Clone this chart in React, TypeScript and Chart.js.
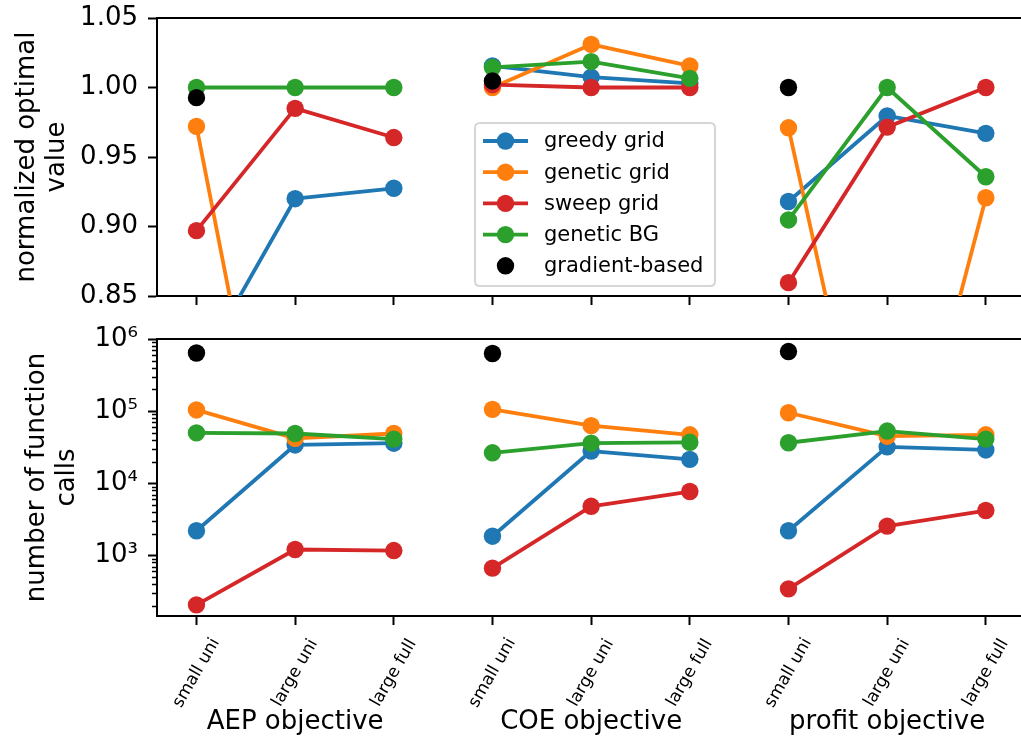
import React, { useEffect, useRef } from 'react';
import { Chart, registerables } from 'chart.js';

Chart.register(...registerables);

// ---------- data ----------
const xPositions = [0, 1, 2, 3, 4, 5, 6, 7, 8];
const layoutLabels = [
  'small uni', 'large uni', 'large full',
  'small uni', 'large uni', 'large full',
  'small uni', 'large uni', 'large full',
];
const objectiveLabels = ['AEP objective', 'COE objective', 'profit objective'];
const objectiveCenters = [1, 4, 7];

const seriesNames = ['greedy grid', 'genetic grid', 'sweep grid', 'genetic BG', 'gradient-based'];
const seriesColors = ['#1f77b4', '#ff7f0e', '#d62728', '#2ca02c', '#000000'];

// normalized optimal value (top panel)
const greedyOpt = [0.795, 0.920, 0.9275, 1.0155, 1.0075, 1.003, 0.918, 0.9795, 0.967];
const geneticOpt = [0.972, 0.61, 0.60, 1.000, 1.031, 1.0155, 0.971, 0.65, 0.9207];
const sweepOpt = [0.897, 0.985, 0.964, 1.002, 1.000, 1.000, 0.8596, 0.9715, 1.000];
const geneticBGOpt = [1.000, 1.000, 1.000, 1.0145, 1.0186, 1.0066, 0.9047, 1.000, 0.9358];
const gradientOpt = [0.9927, null, null, 1.0047, null, null, 1.000, null, null];

// number of function calls (bottom panel)
const greedyCalls = [2200, 34000, 36000, 1850, 28000, 21500, 2200, 32000, 29000];
const geneticCalls = [104000, 42000, 49000, 106000, 63000, 47000, 95000, 45000, 47000];
const sweepCalls = [207, 1210, 1170, 667, 4800, 7700, 345, 2550, 4200];
const geneticBGCalls = [50000, 49000, 41000, 26500, 36000, 37000, 36500, 53000, 41000];
const gradientCalls = [640000, null, null, 630000, null, null, 670000, null, null];

const topTicks = [0.85, 0.9, 0.95, 1.0, 1.05];
const bottomTicks = [1e3, 1e4, 1e5, 1e6];
const bottomTickLabels = ['10³', '10⁴', '10⁵', '10⁶'];

const FONT = '"DejaVu Sans", sans-serif';

function makeDatasets(values: (number | null)[][]) {
  return values.map((vals, s) => ({
    label: seriesNames[s],
    data: vals.map((v, i) => ({ x: xPositions[i], y: v })),
    borderColor: seriesColors[s],
    backgroundColor: seriesColors[s],
    pointBackgroundColor: seriesColors[s],
    pointBorderColor: seriesColors[s],
    pointBorderWidth: 0,
    pointRadius: 8.7,
    pointHoverRadius: 8.7,
    borderWidth: 3.8,
    borderJoinStyle: 'round' as const,
    showLine: s !== 4,
    spanGaps: false,
    clip: 0,
    order: 5 - s,
    segment: {
      borderColor: (ctx: any) =>
        ctx.p0DataIndex === 2 || ctx.p0DataIndex === 5 ? 'rgba(0,0,0,0)' : undefined,
    },
  }));
}

const framePlugin = {
  id: 'frame',
  afterDraw(chart: any) {
    const { ctx, chartArea } = chart;
    const { left, right, top, bottom } = chartArea;
    ctx.save();
    ctx.strokeStyle = '#000';
    ctx.lineWidth = 2;
    ctx.beginPath();
    ctx.moveTo(left - 1, top);
    ctx.lineTo(right + 1, top);
    ctx.moveTo(right, top);
    ctx.lineTo(right, bottom);
    ctx.stroke();
    ctx.restore();
  },
};

const legendPlugin = {
  id: 'customLegend',
  afterDraw(chart: any) {
    const ctx = chart.ctx;
    const bx = 475, by = 123, bw = 240, bh = 163, r = 5;
    ctx.save();
    ctx.beginPath();
    ctx.moveTo(bx + r, by);
    ctx.lineTo(bx + bw - r, by);
    ctx.quadraticCurveTo(bx + bw, by, bx + bw, by + r);
    ctx.lineTo(bx + bw, by + bh - r);
    ctx.quadraticCurveTo(bx + bw, by + bh, bx + bw - r, by + bh);
    ctx.lineTo(bx + r, by + bh);
    ctx.quadraticCurveTo(bx, by + bh, bx, by + bh - r);
    ctx.lineTo(bx, by + r);
    ctx.quadraticCurveTo(bx, by, bx + r, by);
    ctx.closePath();
    ctx.fillStyle = 'rgba(255,255,255,0.8)';
    ctx.fill();
    ctx.strokeStyle = 'rgba(204,204,204,0.8)';
    ctx.lineWidth = 2;
    ctx.stroke();
    const rowY0 = 141, rowStep = 31.2;
    seriesNames.forEach((name, i) => {
      const y = rowY0 + i * rowStep;
      ctx.strokeStyle = seriesColors[i];
      ctx.fillStyle = seriesColors[i];
      if (i !== 4) {
        ctx.lineWidth = 3.8;
        ctx.beginPath();
        ctx.moveTo(483, y);
        ctx.lineTo(528, y);
        ctx.stroke();
      }
      ctx.beginPath();
      ctx.arc(505.5, y, 8.7, 0, Math.PI * 2);
      ctx.fill();
      ctx.fillStyle = '#000';
      ctx.font = `21px ${FONT}`;
      ctx.textAlign = 'left';
      ctx.textBaseline = 'middle';
      ctx.fillText(name, 544, y + 1);
    });
    ctx.restore();
  },
};

const minorTicksPlugin = {
  id: 'minorTicks',
  afterDraw(chart: any) {
    const ys = chart.scales.y;
    const left = chart.chartArea.left;
    const ctx = chart.ctx;
    ctx.save();
    ctx.strokeStyle = '#000';
    ctx.lineWidth = 1.5;
    ctx.beginPath();
    for (let e = 2; e <= 5; e++) {
      for (let m = 2; m <= 9; m++) {
        const v = m * Math.pow(10, e);
        if (v < ys.min || v > ys.max) continue;
        const py = Math.round(ys.getPixelForValue(v)) + 0.5;
        ctx.moveTo(left - 5, py);
        ctx.lineTo(left, py);
      }
    }
    ctx.stroke();
    ctx.restore();
  },
};

const xLabelsPlugin = {
  id: 'xLabels',
  afterDraw(chart: any) {
    const ctx = chart.ctx;
    const xs = chart.scales.x;
    const ang = (60 * Math.PI) / 180;
    const fs = 17;
    ctx.save();
    ctx.fillStyle = '#000';
    ctx.font = `${fs}px ${FONT}`;
    layoutLabels.forEach((lab, i) => {
      const x = xs.getPixelForValue(xPositions[i]);
      ctx.save();
      ctx.translate(x, 353);
      ctx.rotate(-ang);
      ctx.textAlign = 'center';
      ctx.textBaseline = 'middle';
      ctx.fillText(lab, 0, 0);
      ctx.restore();
    });
    ctx.font = `26px ${FONT}`;
    ctx.textAlign = 'center';
    ctx.textBaseline = 'alphabetic';
    objectiveLabels.forEach((lab, i) => {
      const x = xs.getPixelForValue(objectiveCenters[i]);
      ctx.fillText(lab, x, 409);
    });
    ctx.restore();
  },
};

const commonGrid = {
  drawOnChartArea: false,
  drawTicks: true,
  tickLength: 9,
  tickWidth: 2,
  tickColor: '#000',
};
const commonBorder = { display: true, color: '#000', width: 2 };

const zeroPad = (s: any) => {
  s.paddingTop = 0;
  s.paddingBottom = 0;
  s.paddingLeft = 0;
  s.paddingRight = 0;
};

export default function App() {
  const topRef = useRef<HTMLCanvasElement | null>(null);
  const bottomRef = useRef<HTMLCanvasElement | null>(null);

  useEffect(() => {
    if (!topRef.current || !bottomRef.current) return;

    const top = new Chart(topRef.current, {
      type: 'line',
      data: {
        datasets: makeDatasets([greedyOpt, geneticOpt, sweepOpt, geneticBGOpt, gradientOpt]) as any,
      },
      options: {
        responsive: false,
        animation: false,
        events: [],
        layout: { padding: { top: 18, right: 1, left: 0, bottom: 0 } },
        plugins: { legend: { display: false }, tooltip: { enabled: false } },
        scales: {
          x: {
            type: 'linear',
            min: -0.4,
            max: 8.4,
            afterBuildTicks: (s: any) => {
              s.ticks = xPositions.map((v) => ({ value: v }));
            },
            ticks: { display: false },
            grid: commonGrid,
            border: commonBorder,
            afterFit: (s: any) => {
              s.height = 24;
              zeroPad(s);
            },
          },
          y: {
            type: 'linear',
            min: 0.85,
            max: 1.05,
            afterBuildTicks: (s: any) => {
              s.ticks = topTicks.map((v) => ({ value: v }));
            },
            ticks: {
              callback: (v: any) => Number(v).toFixed(2),
              font: { family: FONT, size: 26 },
              color: '#000',
              padding: 10,
            },
            grid: commonGrid,
            border: commonBorder,
            title: {
              display: true,
              text: ['normalized optimal', 'value'],
              font: { family: FONT, size: 26, lineHeight: 30 / 26 },
              color: '#000',
              padding: { top: 12, bottom: 0 },
            },
            afterFit: (s: any) => {
              s.width = 157;
              zeroPad(s);
            },
          },
        },
      } as any,
      plugins: [framePlugin, legendPlugin],
    });

    const bottom = new Chart(bottomRef.current, {
      type: 'line',
      data: {
        datasets: makeDatasets([greedyCalls, geneticCalls, sweepCalls, geneticBGCalls, gradientCalls]) as any,
      },
      options: {
        responsive: false,
        animation: false,
        events: [],
        layout: { padding: { top: 19, right: 1, left: 0, bottom: 0 } },
        plugins: { legend: { display: false }, tooltip: { enabled: false } },
        scales: {
          x: {
            type: 'linear',
            min: -0.4,
            max: 8.4,
            afterBuildTicks: (s: any) => {
              s.ticks = xPositions.map((v) => ({ value: v }));
            },
            ticks: { display: false },
            grid: commonGrid,
            border: commonBorder,
            afterFit: (s: any) => {
              s.height = 122;
              zeroPad(s);
            },
          },
          y: {
            type: 'logarithmic',
            min: 145,
            max: 1e6,
            afterBuildTicks: (s: any) => {
              s.ticks = bottomTicks.map((v) => ({ value: v, major: true }));
            },
            ticks: {
              callback: (v: any) => {
                const i = bottomTicks.findIndex((t) => Math.abs(t - Number(v)) < 1e-6 * t);
                return i >= 0 ? bottomTickLabels[i] : '';
              },
              font: { family: FONT, size: 26 },
              color: '#000',
              padding: 10,
            },
            grid: commonGrid,
            border: commonBorder,
            title: {
              display: true,
              text: ['number of function', 'calls'],
              font: { family: FONT, size: 26, lineHeight: 30 / 26 },
              color: '#000',
              padding: { top: 22, bottom: 0 },
            },
            afterFit: (s: any) => {
              s.width = 157;
              zeroPad(s);
            },
          },
        },
      } as any,
      plugins: [framePlugin, minorTicksPlugin, xLabelsPlugin],
    });

    return () => {
      top.destroy();
      bottom.destroy();
    };
  }, []);

  return (
    <div
      style={{
        position: 'absolute',
        left: 0,
        top: 0,
        width: 1021,
        height: 738,
        overflow: 'hidden',
        background: '#fff',
      }}
    >
      <canvas ref={topRef} width={1034} height={320} style={{ position: 'absolute', left: 0, top: 0 }} />
      <canvas ref={bottomRef} width={1034} height={418} style={{ position: 'absolute', left: 0, top: 320 }} />
    </div>
  );
}
